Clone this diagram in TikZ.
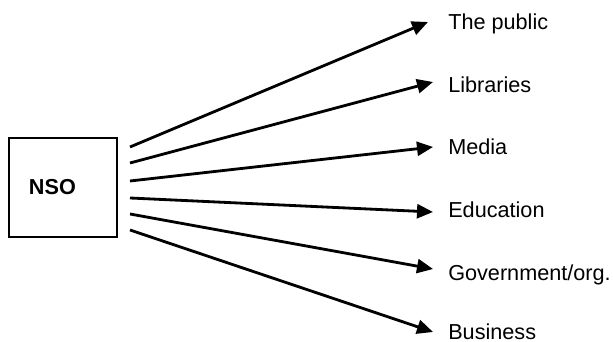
\documentclass[tikz,border=0pt]{standalone}
\usepackage{fontspec}
\setmainfont{Liberation Sans}
\usepackage{tikz}
\usetikzlibrary{arrows.meta, positioning}

\begin{document}
\begin{tikzpicture}[font=\fontsize{15.4pt}{18pt}\selectfont,
  spoke/.style={line width=2pt, -{Triangle[length=4mm, width=3.5mm]}},
  target/.style={anchor=base west, inner sep=0pt}]
\useasboundingbox (0.00, 0.00) rectangle (15.325, 8.55);
\node[draw=black, line width=1.4pt, minimum height=2.475cm, text width=1.7cm, inner xsep=0.5cm, align=left, font=\fontsize{15.4pt}{18pt}\selectfont\bfseries] (nso) at (1.575, 3.8625) {NSO};
% start points of the spokes
\coordinate (s1) at (3.25, 4.875);
\coordinate (s2) at (3.25, 4.475);
\coordinate (s3) at (3.25, 4.025);
\coordinate (s4) at (3.25, 3.60);
\coordinate (s5) at (3.25, 3.20);
\coordinate (s6) at (3.25, 2.80);
% arrow tips
\coordinate (t1) at (10.70, 8.00);
\coordinate (t2) at (10.825, 6.50);
\coordinate (t3) at (10.825, 4.875);
\coordinate (t4) at (10.825, 3.25);
\coordinate (t5) at (10.825, 1.825);
\coordinate (t6) at (10.825, 0.25);
% audiences
\node[target] (public) at (11.20, 7.80) {The public};
\node[target] (libraries) at (11.20, 6.225) {Libraries};
\node[target] (media) at (11.20, 4.675) {Media};
\node[target] (education) at (11.20, 3.10) {Education};
\node[target] (government) at (11.20, 1.525) {Government/org.};
\node[target] (business) at (11.20, 0.05) {Business};
\draw[spoke] (s1) -- (t1);
\draw[spoke] (s2) -- (t2);
\draw[spoke] (s3) -- (t3);
\draw[spoke] (s4) -- (t4);
\draw[spoke] (s5) -- (t5);
\draw[spoke] (s6) -- (t6);
\end{tikzpicture}
\end{document}
